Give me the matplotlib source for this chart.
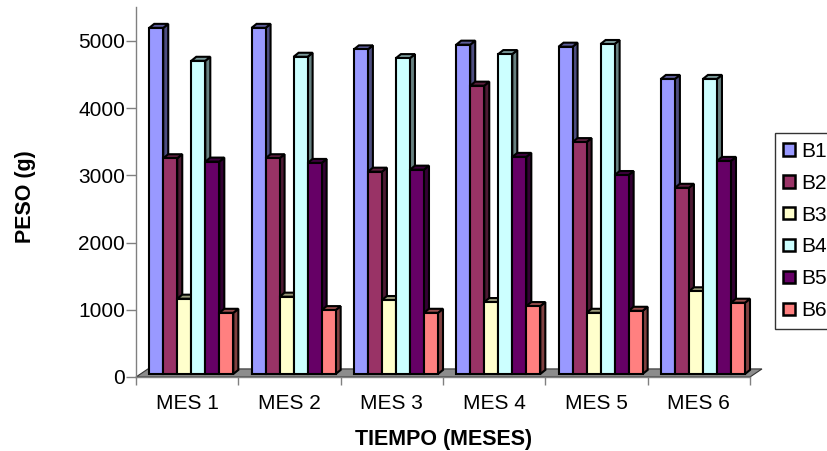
import matplotlib.pyplot as plt
from matplotlib.patches import Polygon, Patch
import matplotlib.colors as mcolors

plt.rcParams['font.family'] = ['Liberation Sans', 'DejaVu Sans']

meses = ["MES 1", "MES 2", "MES 3", "MES 4", "MES 5", "MES 6"]
series = ["B1", "B2", "B3", "B4", "B5", "B6"]

b1 = [5150, 5150, 4830, 4900, 4870, 4390]
b2 = [3210, 3210, 3010, 4290, 3450, 2770]
b3 = [1120, 1150, 1100, 1070, 910, 1230]
b4 = [4660, 4720, 4700, 4760, 4910, 4390]
b5 = [3160, 3140, 3040, 3230, 2960, 3170]
b6 = [910, 950, 910, 1010, 940, 1060]

colores = ["#9999FF", "#993366", "#FFFFCC", "#CCFFFF", "#660066", "#FF8080"]

datos = [b1, b2, b3, b4, b5, b6]


def oscuro(c, f):
    r, g, b = mcolors.to_rgb(c)
    return (r * f, g * f, b * f)


def grafico():
    fig = plt.figure(figsize=(8.27, 4.51), dpi=100)
    ax = fig.add_axes([136 / 827, 74 / 451, 614 / 827, 369.6 / 451])
    ax.set_xlim(-0.5, len(meses) - 0.5)
    ax.set_ylim(0, 5500)

    # pseudo 3D depth (data units)
    dx, dy = 0.049, 60
    fdx, fdy = 0.117, 120
    base = 45
    w = 0.137
    shift = 0.04
    lw = 1.5

    # floor
    n = len(meses)
    piso = Polygon([(-0.5, 0), (n - 0.5, 0), (n - 0.5 + fdx, fdy), (-0.5 + fdx, fdy)],
                   closed=True, facecolor="#8c8c8c", edgecolor="#333333",
                   linewidth=0.8, clip_on=False, zorder=1)
    ax.add_patch(piso)

    z = 2
    for i in range(n):
        inicio = i + shift - w * len(series) / 2
        for j, serie in enumerate(datos):
            v = serie[i]
            x0 = inicio + j * w
            x1 = x0 + w
            top = base + v
            lado = Polygon([(x1, base), (x1 + dx, base + dy), (x1 + dx, top + dy), (x1, top)],
                           closed=True, facecolor=oscuro(colores[j], 0.5),
                           edgecolor="black", linewidth=lw, clip_on=False, zorder=z)
            tapa = Polygon([(x0, top), (x0 + dx, top + dy), (x1 + dx, top + dy), (x1, top)],
                           closed=True, facecolor=oscuro(colores[j], 0.6),
                           edgecolor="black", linewidth=lw, clip_on=False, zorder=z)
            ax.add_patch(lado)
            ax.add_patch(tapa)
            ax.bar(x0, v, width=w, bottom=base, align="edge", color=colores[j],
                   edgecolor="black", linewidth=lw, zorder=z + 0.5, clip_on=False)
            z += 1

    for s in ["top", "right"]:
        ax.spines[s].set_visible(False)
    for s in ["left", "bottom"]:
        ax.spines[s].set_color("#808080")
        ax.spines[s].set_linewidth(1.0)
        ax.spines[s].set_zorder(100)

    ax.set_yticks([0, 1000, 2000, 3000, 4000, 5000])
    ax.tick_params(axis="y", length=7, width=1, color="#808080", pad=1, labelsize=15)
    ax.set_xticks(range(n))
    ax.set_xticklabels(meses)
    ax.tick_params(axis="x", which="major", length=0, pad=12, labelsize=15)
    ax.set_xticks([k - 0.5 for k in range(n + 1)], minor=True)
    ax.tick_params(axis="x", which="minor", length=6, width=1, color="#808080")

    fig.text(444 / 827, 1 - 439 / 451, "TIEMPO (MESES)", ha="center", va="center",
             fontsize=15.5, fontweight="bold")
    fig.text(25 / 827, 1 - 197 / 451, "PESO (g)", ha="center", va="center",
             rotation=90, fontsize=15.5, fontweight="bold")

    handles = [Patch(facecolor=c, edgecolor="black", linewidth=1.8) for c in colores]
    leg = fig.legend(handles, series, loc="center left", bbox_to_anchor=(775 / 827, 1 - 231 / 451),
                     fontsize=15, frameon=True, fancybox=False, handlelength=0.55,
                     handleheight=0.55, handletextpad=0.3, labelspacing=0.62,
                     borderpad=0.4, borderaxespad=0)
    leg.get_frame().set_edgecolor("black")
    leg.get_frame().set_linewidth(1.0)

    fig.savefig("out.png", dpi=100)


def main():
    grafico()


if __name__ == "__main__":
    main()
